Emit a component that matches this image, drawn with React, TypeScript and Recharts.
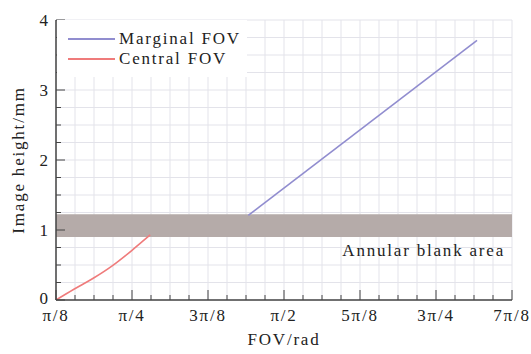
import React from 'react';
import { ComposedChart, Line, XAxis, YAxis, CartesianGrid, ReferenceArea, Legend } from 'recharts';

// x values are in units of π/8 rad
const xTickValues = [1, 1.25, 1.5, 1.75, 2, 2.25, 2.5, 2.75, 3, 3.25, 3.5, 3.75, 4, 4.25, 4.5, 4.75, 5, 5.25, 5.5, 5.75, 6, 6.25, 6.5, 6.75, 7];
const xMajorValues = [1, 2, 3, 4, 5, 6, 7];
const xMajorLabels = ['π/8', 'π/4', '3π/8', 'π/2', '5π/8', '3π/4', '7π/8'];
const yTickValues = [0, 0.25, 0.5, 0.75, 1, 1.25, 1.5, 1.75, 2, 2.25, 2.5, 2.75, 3, 3.25, 3.5, 3.75, 4];
const yMajorValues = [0, 1, 2, 3, 4];

const centralX = [1.0, 1.23, 1.49, 1.73, 2.0, 2.13, 2.24];
const centralY = [0, 0.15, 0.31, 0.48, 0.71, 0.83, 0.93];
const marginalX = [3.53, 6.54];
const marginalY = [1.21, 3.71];
const bandLow = 0.9;
const bandHigh = 1.225;

const seriesNames = ['Marginal FOV', 'Central FOV'];
const seriesColors = ['#918dcf', '#ef7b7b'];

const centralData = centralX.map((x, i) => ({ x, y: centralY[i] }));
const marginalData = marginalX.map((x, i) => ({ x, y: marginalY[i] }));

const FONT = 'Liberation Serif';
const TEXT_COLOR = '#222';
const LS = 1.8;
const X_MARGIN = 9;
const Y_MARGIN = 8;
const AXIS_COLOR = '#444';

const XTick = (props: any) => {
  const { x, y, payload } = props;
  const v = payload.value;
  const idx = xMajorValues.indexOf(v);
  const major = idx >= 0;
  const axisY = y - X_MARGIN;
  return (
    <g>
      <line x1={x} x2={x} y1={axisY} y2={axisY - (major ? 10 : 5)} stroke={AXIS_COLOR} strokeWidth={1} />
      {major && (
        <text x={x} y={y} dy="0.71em" textAnchor="middle" style={{ fontFamily: FONT, fontSize: 17, letterSpacing: LS }} fill={TEXT_COLOR}>
          {xMajorLabels[idx]}
        </text>
      )}
    </g>
  );
};

const YTick = (props: any) => {
  const { x, y, payload } = props;
  const v = payload.value;
  const major = yMajorValues.indexOf(v) >= 0;
  const axisX = x + Y_MARGIN;
  return (
    <g>
      <line x1={axisX} x2={axisX + (major ? 9 : 5)} y1={y} y2={y} stroke={AXIS_COLOR} strokeWidth={1} />
      {major && (
        <text x={x} y={v === 0 ? y - 2 : y} dy="0.355em" textAnchor="end" style={{ fontFamily: FONT, fontSize: 17 }} fill={TEXT_COLOR}>
          {String(v)}
        </text>
      )}
    </g>
  );
};

const LegendContent = () => (
  <div style={{ paddingTop: 9, fontFamily: FONT, fontSize: 17, color: TEXT_COLOR, letterSpacing: LS }}>
    {seriesNames.map((name, i) => (
      <div key={name} style={{ display: 'flex', alignItems: 'center', height: 20, lineHeight: '20px' }}>
        <div style={{ marginLeft: 11, width: 47, height: 0, borderTop: `2px solid ${seriesColors[i]}` }} />
        <span style={{ marginLeft: 4 }}>{name}</span>
      </div>
    ))}
  </div>
);

const BandLabel = (props: any) => {
  const vb = props.viewBox || {};
  return (
    <text
      x={vb.x + vb.width - 7}
      y={vb.y + vb.height + 19}
      textAnchor="end"
      fill={TEXT_COLOR}
      style={{ fontFamily: FONT, fontSize: 17, letterSpacing: LS }}
    >
      Annular blank area
    </text>
  );
};

const XLabel = (props: any) => {
  const vb = props.viewBox || {};
  return (
    <text x={vb.x + vb.width / 2} y={vb.y + vb.height - 9} textAnchor="middle" fill={TEXT_COLOR} style={{ fontFamily: FONT, fontSize: 17, letterSpacing: LS }}>
      FOV/rad
    </text>
  );
};

const YLabel = (props: any) => {
  const vb = props.viewBox || {};
  const cx = vb.x + 18;
  const cy = vb.y + vb.height / 2;
  return (
    <text x={cx} y={cy} dy="0.355em" textAnchor="middle" transform={`rotate(-90 ${cx} ${cy})`} fill={TEXT_COLOR} style={{ fontFamily: FONT, fontSize: 17, letterSpacing: LS }}>
      Image height/mm
    </text>
  );
};

export default function App() {
  return (
    <div style={{ position: 'absolute', left: 0, top: 0, width: 531, height: 354, background: '#fff' }}>
      <ComposedChart width={531} height={354} margin={{ top: 20, right: 19, bottom: 0, left: 0 }}>
        <CartesianGrid stroke="#e3e3ea" strokeWidth={1} />
        <XAxis
          type="number"
          dataKey="x"
          domain={[1, 7]}
          ticks={xTickValues}
          interval={0}
          allowDataOverflow
          height={54}
          tickSize={0}
          tickMargin={X_MARGIN}
          tickLine={false}
          axisLine={{ stroke: AXIS_COLOR, strokeWidth: 1.5 }}
          tick={<XTick />}
          label={<XLabel />}
        />
        <YAxis
          type="number"
          domain={[0, 4]}
          ticks={yTickValues}
          interval={0}
          allowDataOverflow
          width={56}
          tickSize={0}
          tickMargin={Y_MARGIN}
          tickLine={false}
          axisLine={{ stroke: AXIS_COLOR, strokeWidth: 1.5 }}
          tick={<YTick />}
          label={<YLabel />}
        />
        <ReferenceArea y1={bandLow} y2={bandHigh} fill="#b5aba9" fillOpacity={1} stroke="none" label={<BandLabel />} />
        <Line data={marginalData} dataKey="y" type="linear" stroke={seriesColors[0]} strokeWidth={1.6} dot={false} isAnimationActive={false} name={seriesNames[0]} />
        <Line data={centralData} dataKey="y" type="monotone" stroke={seriesColors[1]} strokeWidth={1.6} dot={false} isAnimationActive={false} name={seriesNames[1]} />
        <Legend
          layout="horizontal"
          verticalAlign="middle"
          align="center"
          content={<LegendContent />}
          wrapperStyle={{ position: 'absolute', left: 57, top: 20, width: 190, height: 57, background: '#fff' }}
        />
      </ComposedChart>
    </div>
  );
}
